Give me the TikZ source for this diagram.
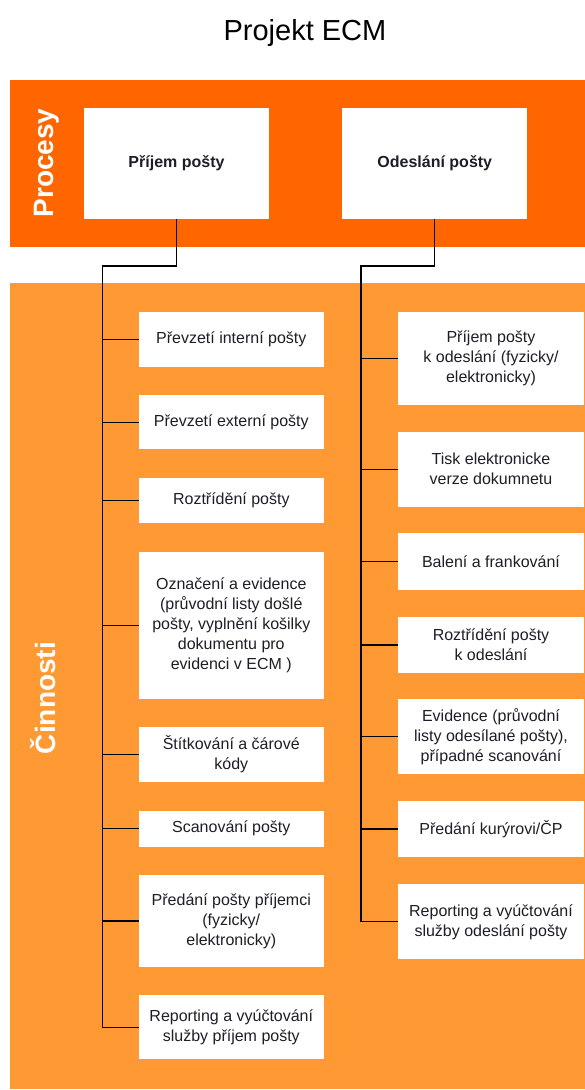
\documentclass[tikz,border=0pt]{standalone}
\usepackage{fontspec}
\setmainfont{Liberation Sans}
\definecolor{bandprocess}{HTML}{FF6600}
\definecolor{bandactivity}{HTML}{FF9933}
\definecolor{boxtext}{HTML}{1E1E28}
\begin{document}
\begin{tikzpicture}[x=1pt,y=-1pt,
  box/.style={fill=white, inner sep=2pt, align=center, text=boxtext,
              font=\fontsize{16}{20}\selectfont},
  procbox/.style={box, minimum width=185pt, minimum height=111pt,
              font=\bfseries\fontsize{16}{20}\selectfont},
  lbox/.style={box, minimum width=184.5pt},
  rbox/.style={box, minimum width=186pt},
  bandlabel/.style={rotate=90, text=white, font=\bfseries\fontsize{28}{28}\selectfont},
  conn/.style={draw=black, line width=1.2pt}]
\useasboundingbox (0,0) rectangle (585,1090);
\fill[white] (0,0) rectangle (585,1090);

% title
\node[anchor=base, font=\fontsize{29}{30}\selectfont] (title) at (305,40) {Projekt ECM};

% bands
\fill[bandprocess] (10,80) rectangle (585,247);
\fill[bandactivity] (10,283) rectangle (585,1089);
\node[bandlabel] (procesy) at (46.5,163) {Procesy};
\node[bandlabel] (cinnosti) at (43,698) {Činnosti};

% processes
\node[procbox] (p1) at (176.5,163.5) {Příjem pošty};
\node[procbox] (p2) at (434.8,163.5) {Odeslání pošty};

% activities of the incoming mail process
\node[lbox, minimum height=55pt]   (l1) at (231.3,339.2) {Převzetí interní pošty};
\node[lbox, minimum height=54.3pt] (l2) at (231.3,422.2) {Převzetí externí pošty};
\node[lbox, minimum height=45.6pt] (l3) at (231.3,500.5) {Roztřídění pošty};
\node[lbox, minimum height=147.3pt] (l4) at (231.3,625.4) {Označení a evidence\\(průvodní listy došlé\\pošty, vyplnění košilky\\dokumentu pro\\evidenci v ECM )};
\node[lbox, minimum height=54.4pt] (l5) at (231.3,754.5) {Štítkování a čárové\\kódy};
\node[lbox, minimum height=36pt]   (l6) at (231.3,828.7) {Scanování pošty};
\node[lbox, minimum height=91.7pt] (l7) at (231.3,920.9) {Předání pošty příjemci\\(fyzicky/\\elektronicky)};
\node[lbox, minimum height=64.3pt] (l8) at (231.3,1027.2) {Reporting a vyúčtování\\služby příjem pošty};

% activities of the outgoing mail process
\node[rbox, minimum height=93.3pt] (r1) at (491,358.4) {Příjem pošty\\k odeslání (fyzicky/\\elektronicky)};
\node[rbox, minimum height=75pt]   (r2) at (491,469.2) {Tisk elektronicke\\verze dokumnetu};
\node[rbox, minimum height=56.7pt] (r3) at (491,561.7) {Balení a frankování};
\node[rbox, minimum height=56.6pt] (r4) at (491,645) {Roztřídění pošty\\k odeslání};
\node[rbox, minimum height=75pt]   (r5) at (491,736.8) {Evidence (průvodní\\listy odesílané pošty),\\případné scanování};
\node[rbox, minimum height=56.6pt] (r6) at (491,829) {Předání kurýrovi/ČP};
\node[rbox, minimum height=75pt]   (r7) at (491,921.8) {Reporting a vyúčtování\\služby odeslání pošty};

% connectors: incoming mail
\coordinate (t1) at (102.6,266);
\draw[conn] (p1.south) |- (t1) -- (t1 |- l8.west) -- (l8.west);
\foreach \n in {l1,l2,l3,l4,l5,l6,l7}
  \draw[conn] (t1 |- \n.west) -- (\n.west);

% connectors: outgoing mail
\coordinate (t2) at (361,266);
\draw[conn] (p2.south) |- (t2) -- (t2 |- r7.west) -- (r7.west);
\foreach \n in {r1,r2,r3,r4,r5,r6}
  \draw[conn] (t2 |- \n.west) -- (\n.west);
\end{tikzpicture}
\end{document}
